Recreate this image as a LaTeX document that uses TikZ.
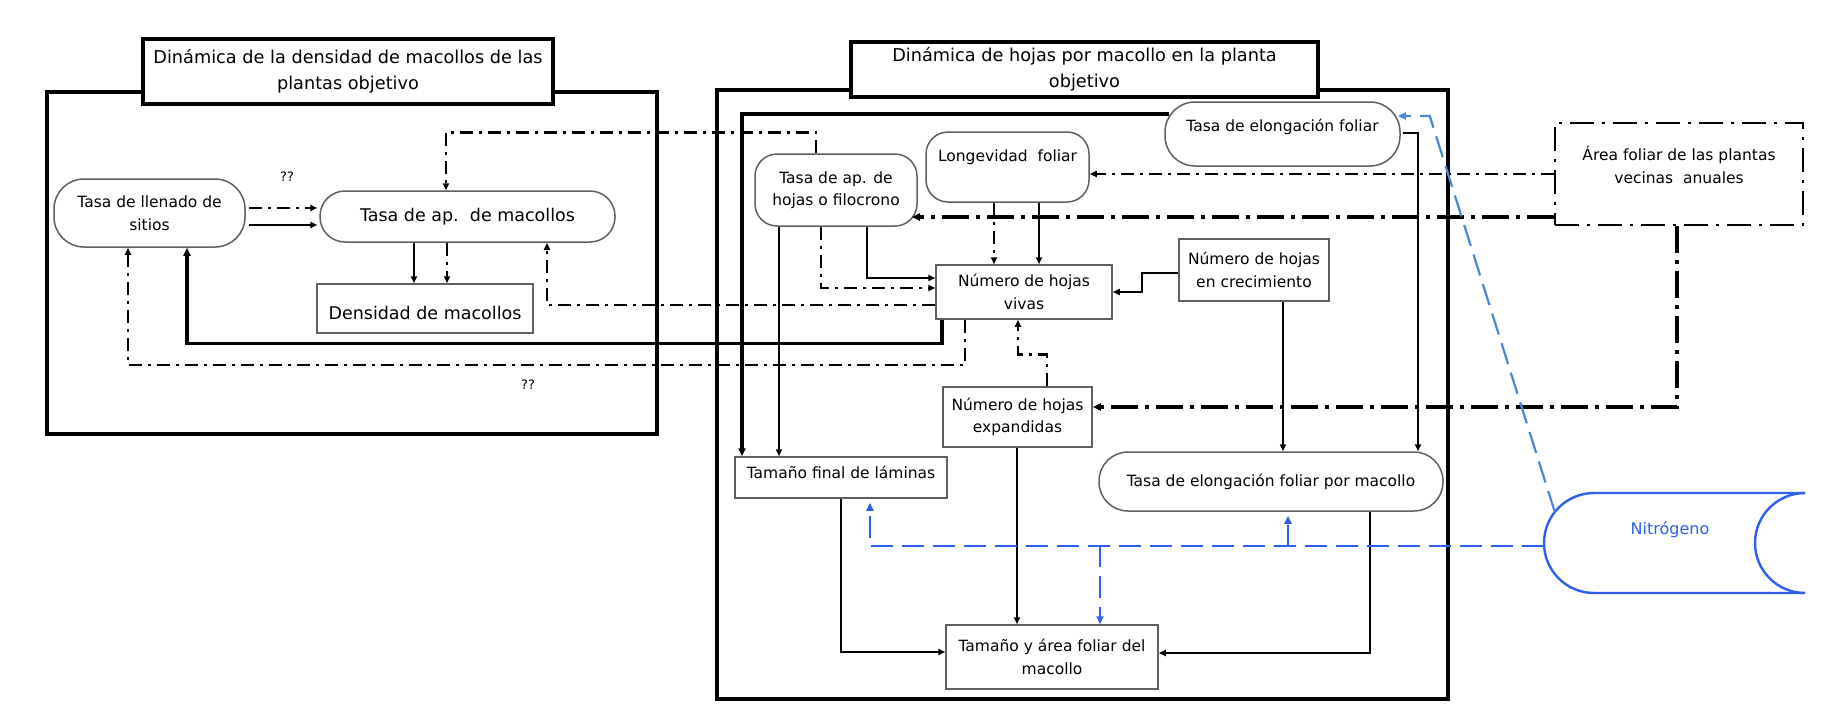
\documentclass[tikz,border=0pt]{standalone}
\usepackage{fontspec}
\setmainfont{DejaVu Sans}
\usetikzlibrary{arrows.meta,calc}
\definecolor{nblue}{RGB}{45,95,240}
\definecolor{lblue}{RGB}{75,135,215}
\definecolor{bgray}{RGB}{95,95,95}
\begin{document}
\begin{tikzpicture}[x=1pt,y=-1pt,
  fs/.style={font=\fontsize{15.5}{22.5}\selectfont},
  fb/.style={font=\fontsize{17.5}{24}\selectfont},
  txt/.style={fs, align=center, inner sep=0pt},
  box/.style={draw=bgray, line width=1.5pt, fill=white, inner sep=0pt, align=center, fs},
  ttl/.style={draw=black, line width=4pt, fill=white, inner sep=0pt, align=center, font=\fontsize{17.7}{26}\selectfont},
  frm/.style={draw=black, line width=4pt, inner sep=0pt},
  tip/.style={-{Triangle[length=7pt,width=6pt]}},
  sl/.style={draw=black, line width=2pt, tip},
  slt/.style={draw=black, line width=3.2pt, -{Triangle[length=8pt,width=7pt]}},
  dd/.style={draw=black, line width=2.5pt, dash pattern=on 13pt off 6pt on 3pt off 6pt, tip},
  ddl/.style={draw=black, line width=3.2pt, dash pattern=on 27pt off 7pt on 4pt off 7pt, -{Triangle[length=8pt,width=7pt]}},
  bd/.style={draw=nblue, line width=2.2pt, dash pattern=on 22pt off 9pt, -{Triangle[length=8pt,width=7pt]}}
]
\useasboundingbox (0,0) rectangle (1848,728);

% frames and titles
\node[frm, minimum width=610pt, minimum height=342pt] (frameL) at (352,263) {};
\node[frm, minimum width=731pt, minimum height=609pt] (frameR) at (1082.5,394.5) {};
\node[ttl, minimum width=410pt, minimum height=65pt] (title1) at (348,71.5) {Dinámica de la densidad de macollos de las\\plantas objetivo};
\node[ttl, minimum width=467pt, minimum height=55pt] (title2) at (1084.5,69.5) {Dinámica de hojas por macollo en la planta\\objetivo};

% left panel nodes
\node[box, rounded corners=30pt, minimum width=191pt, minimum height=68pt] (llenado) at (149.5,213) {Tasa de llenado de\\sitios};
\node[box, fb, rounded corners=25pt, minimum width=295pt, minimum height=51pt] (apmac) at (467.5,216.5) {Tasa de ap.\ \ de macollos};
\node[box, minimum width=216pt, minimum height=49pt] (densidad) at (425,308.5) {};
\node[txt, fb] (densidadt) at (425,313) {Densidad de macollos};
\node[font=\fontsize{13}{15}\selectfont, inner sep=0pt] (q1) at (287,177) {??};
\node[font=\fontsize{13}{15}\selectfont, inner sep=0pt] (q2) at (528,385) {??};

% right panel nodes
\node[box, rounded corners=22pt, minimum width=162pt, minimum height=72pt] (filo) at (836,190) {Tasa de ap. de\\hojas o filocrono};
\node[box, rounded corners=22pt, minimum width=163pt, minimum height=70pt] (longev) at (1007.5,167) {};
\node[txt] (longevt) at (1007.5,157) {Longevidad\ \ foliar};
\node[box, rounded corners=30pt, minimum width=235pt, minimum height=64pt] (elong) at (1282.5,134) {};
\node[txt] (elongt) at (1282.5,127) {Tasa de elongación foliar};
\node[box, minimum width=176pt, minimum height=54pt] (vivas) at (1024,292) {Número de hojas\\vivas};
\node[box, minimum width=150pt, minimum height=62pt] (crecim) at (1254,270) {Número de hojas\\en crecimiento};
\node[box, minimum width=149pt, minimum height=60pt] (expand) at (1017.5,417) {Número de hojas\\expandidas};
\node[box, minimum width=212pt, minimum height=41pt] (tamfin) at (841,477.5) {};
\node[txt] (tamfint) at (841,472) {Tamaño final de láminas};
\node[box, rounded corners=29pt, minimum width=344pt, minimum height=59pt] (elongmac) at (1271,481.5) {Tasa de elongación foliar por macollo};
\node[box, minimum width=212pt, minimum height=64pt] (tamarea) at (1052,657) {Tamaño y área foliar del\\macollo};
\node[draw=black, fill=white, line width=2.4pt, dash pattern=on 24pt off 8pt on 3pt off 8pt, minimum width=248pt, minimum height=102pt, inner sep=0pt] (area) at (1679,174) {};
\node[txt] (areat) at (1679,165) {Área foliar de las plantas\\vecinas\ \ anuales};

% nitrogen cylinder
\node[minimum width=261pt, minimum height=100pt, inner sep=0pt] (nitro) at (1674.5,543) {};
\draw[nblue, line width=2.4pt] (1805,493) -- (1594,493) .. controls (1566.4,493) and (1544,515.4) .. (1544,543) .. controls (1544,570.6) and (1566.4,593) .. (1594,593) -- (1805,593);
\draw[nblue, line width=2.4pt] (1805,493) .. controls (1777.4,493) and (1755,515.4) .. (1755,543) .. controls (1755,570.6) and (1777.4,593) .. (1805,593);
\node[txt, text=nblue, font=\fontsize{16}{20}\selectfont] (nitrot) at (1670,530) {Nitrógeno};

% left panel connectors
\draw[dd] ($(llenado.east)+(3,-5)$) -- ($(apmac.west)+(-2,-8.5)$);
\draw[sl] ($(llenado.east)+(3,12)$) -- ($(apmac.west)+(-2,8.5)$);
\draw[sl] ($(apmac.south)+(-53.5,0)$) -- ($(densidad.north)+(-11,0)$);
\draw[dd] ($(apmac.south)+(-20.5,0)$) -- ($(densidad.north)+(22,0)$);
\draw[dd] ($(filo.north)+(-20,0)$) -- ++(0,-21) -| ($(apmac.north)+(-21.5,0)$);
\draw[dd] ($(vivas.west)+(0,13)$) -| ($(apmac.south)+(79.5,0)$);
\draw[slt] ($(vivas.south)+(-82,0)$) -- ++(0,24) -| ($(llenado.south)+(37.5,0)$);
\draw[dd] ($(vivas.south)+(-59,0)$) -- ++(0,45) -| ($(llenado.south)+(-21.5,0)$);

% right panel connectors
\draw[slt] ($(elong.west)+(5,-20)$) -| ($(tamfin.north)+(-99,0)$);
\draw[sl] ($(filo.south)+(-57,0)$) -- ($(tamfin.north)+(-62,0)$);
\draw[dd] ($(filo.south)+(-15,0)$) |- ($(vivas.west)+(0,-4)$);
\draw[sl] ($(filo.south)+(31,0)$) |- ($(vivas.west)+(0,-14)$);
\draw[dd] ($(longev.south)+(-13.5,0)$) -- ($(vivas.north)+(-30,0)$);
\draw[sl] ($(longev.south)+(31.5,0)$) -- ($(vivas.north)+(15,0)$);
\draw[dd, line width=2pt] (area.west) -- ($(longev.east)+(0,7)$);
\draw[ddl] ($(area.west)+(0,43)$) -- ($(filo.east)+(-6,27)$);
\draw[sl, line width=1.6pt] ($(crecim.west)+(0,3)$) -- ++(-36,0) |- (vivas.east);
\draw[sl] ($(crecim.south)+(29,0)$) -- ($(elongmac.north)+(12,0)$);
\draw[sl] ($(elong.east)+(2,-1)$) -| ($(elongmac.north)+(147,0)$);
\draw[dd] ($(expand.north)+(29.5,0)$) -- ++(0,-32) -| ($(vivas.south)+(-6,0)$);
\draw[ddl] ($(area.south)+(-2,0)$) |- ($(expand.east)+(0,-10)$);
\draw[sl] (tamfin.south) |- ($(tamarea.west)+(0,-5)$);
\draw[sl] ($(expand.south)+(-0.5,0)$) -- ($(tamarea.north)+(-35,0)$);
\draw[sl] ($(elongmac.south)+(99,0)$) |- ($(tamarea.east)+(0,-4)$);

% nitrogen connectors
\draw[bd] ($(nitro.west)+(0,3)$) -| ($(tamfin.south)+(29,4)$);
\coordinate (j1) at ($(elongmac.south)+(17,35)$);
\draw[bd] (j1) -- ($(elongmac.south)+(17,4)$);
\coordinate (j2) at ($(tamarea.north)+(48,-79)$);
\draw[bd] (j2) -- ($(tamarea.north)+(48,0)$);
\draw[bd, draw=lblue] ($(nitro.west)+(11,-31)$) -- ($(elong.east)+(29,-18)$) -- ($(elong.east)+(-3,-18)$);
\end{tikzpicture}
\end{document}
